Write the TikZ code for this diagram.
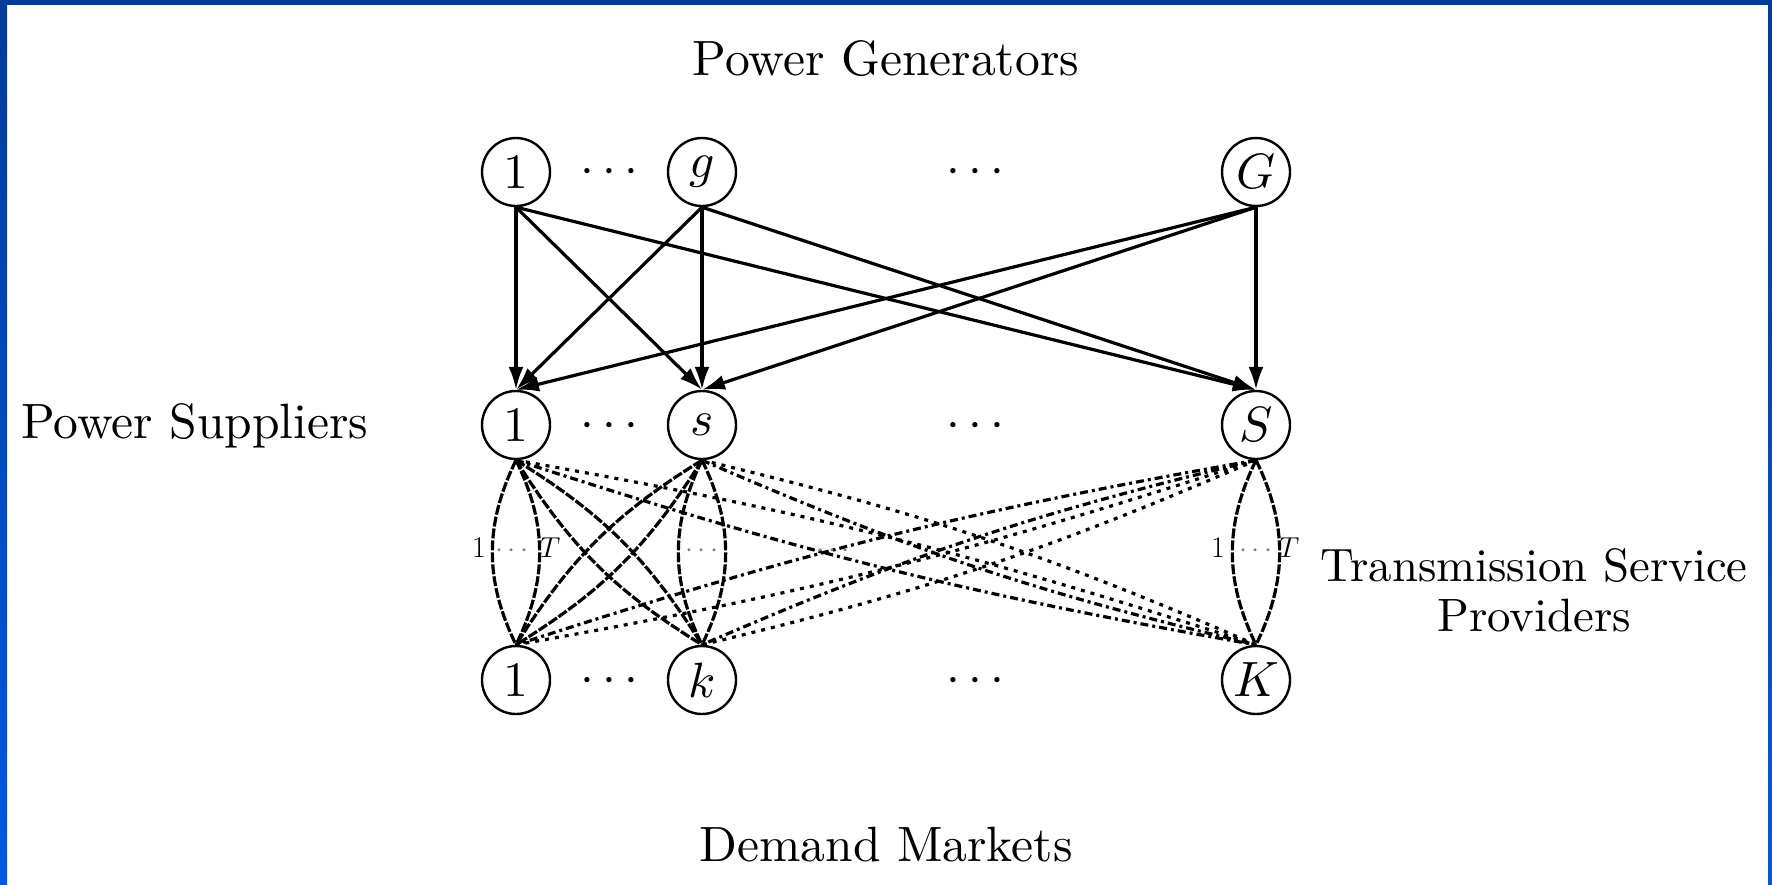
\documentclass[tikz,border=0pt]{standalone}
\usepackage{graphicx}
\usetikzlibrary{arrows.meta}
\definecolor{navytop}{HTML}{003C9A}
\definecolor{bluebot}{HTML}{0059E4}
\newcommand{\bt}[1]{\scalebox{2.48}{#1}}
\newcommand{\mt}[1]{\scalebox{2.34}{#1}}
\begin{document}
\begin{tikzpicture}[x=0.5pt,y=-0.5pt,
  vtx/.style={circle,draw,line width=1.2pt,minimum size=34pt,inner sep=0pt,fill=white},
  lbl/.style={inner sep=0pt,anchor=base},
  tiny/.style={inner sep=0pt,anchor=base,font=\fontsize{15}{17}\selectfont},
  arr/.style={line width=1.6pt,-{Latex[length=11.5pt,width=7.5pt]}},
  lens/.style={line width=1.6pt,dash pattern=on 5pt off 1pt},
  dotl/.style={line width=1.6pt,dash pattern=on 2pt off 3pt},
  dashdotl/.style={line width=1.6pt,dash pattern=on 4pt off 2pt on 1.5pt off 2pt},
]
\useasboundingbox (0,0) rectangle (1772,884);
\fill[white] (0,0) rectangle (1772,884);
\shade[top color=navytop,bottom color=bluebot] (0,0) rectangle (7,884);
\shade[top color=navytop,bottom color=bluebot] (1768,0) rectangle (1772,884);
\fill[navytop] (0,0) rectangle (1772,5);

% nodes
\node[vtx] (g1) at (516,172) {\bt{1}};
\node[vtx] (gg) at (702,172) {\bt{$g$}};
\node[vtx] (gG) at (1256,172) {\bt{$G$}};
\node[vtx] (s1) at (516,425) {\bt{1}};
\node[vtx] (ss) at (702,425) {\bt{$s$}};
\node[vtx] (sS) at (1256,425) {\bt{$S$}};
\node[vtx] (d1) at (516,680) {\bt{1}};
\node[vtx] (dk) at (702,680) {\bt{$k$}};
\node[vtx] (dK) at (1256,680) {\bt{$K$}};

% dots between nodes
\node[lbl] (c1) at (609,183) {\bt{$\cdots$}};
\node[lbl] (c2) at (975,183) {\bt{$\cdots$}};
\node[lbl] (c3) at (609,437) {\bt{$\cdots$}};
\node[lbl] (c4) at (975,437) {\bt{$\cdots$}};
\node[lbl] (c5) at (609,692) {\bt{$\cdots$}};
\node[lbl] (c6) at (975,692) {\bt{$\cdots$}};

% titles
\node[lbl] (tg) at (886,75) {\bt{Power Generators}};
\node[lbl,anchor=base west] (tsu) at (21,438) {\bt{Power Suppliers}};
\node[lbl] (tt1) at (1534,581) {\mt{Transmission Service}};
\node[lbl] (tt2) at (1534,631) {\mt{Providers}};
\node[lbl] (tdm) at (886,861) {\bt{Demand Markets}};

% generator -> supplier arrows
\foreach \a in {g1,gg,gG}
  \foreach \b in {s1,ss,sS}
    \draw[arr] (\a.south) -- (\b.north);

% supplier -> demand links
\foreach \a/\b in {s1/d1,ss/dk,sS/dK}{
  \draw[lens] (\a.south) to[bend left=26] (\b.north);
  \draw[lens] (\a.south) to[bend right=26] (\b.north);
}
\foreach \a/\b in {s1/dk,ss/d1}{
  \draw[lens] (\a.south) to[bend left=13] (\b.north);
  \draw[lens] (\a.south) to[bend right=13] (\b.north);
}
\foreach \a/\b in {ss/dK,sS/dk}{
  \draw[dotl] (\a.south) to[bend left=5] (\b.north);
  \draw[dashdotl] (\a.south) to[bend right=5] (\b.north);
}
\foreach \a/\b in {s1/dK,sS/d1}{
  \draw[dotl] (\a.south) to[bend left=4] (\b.north);
  \draw[dashdotl] (\a.south) to[bend right=4] (\b.north);
}

% link labels
\node[tiny] (la1) at (479,557) {1};
\node[tiny,text=gray] (la2) at (512,557) {$\cdots$};
\node[tiny] (la3) at (550,557) {$T$};
\node[tiny,text=gray] (lb2) at (702,557) {$\cdots$};
\node[tiny,text=gray] (lb3) at (833,557) {$\cdots$};
\node[tiny] (lc1) at (1218,557) {1};
\node[tiny,text=gray] (lc2) at (1256,557) {$\cdots$};
\node[tiny] (lc3) at (1289,557) {$T$};
\end{tikzpicture}
\end{document}
